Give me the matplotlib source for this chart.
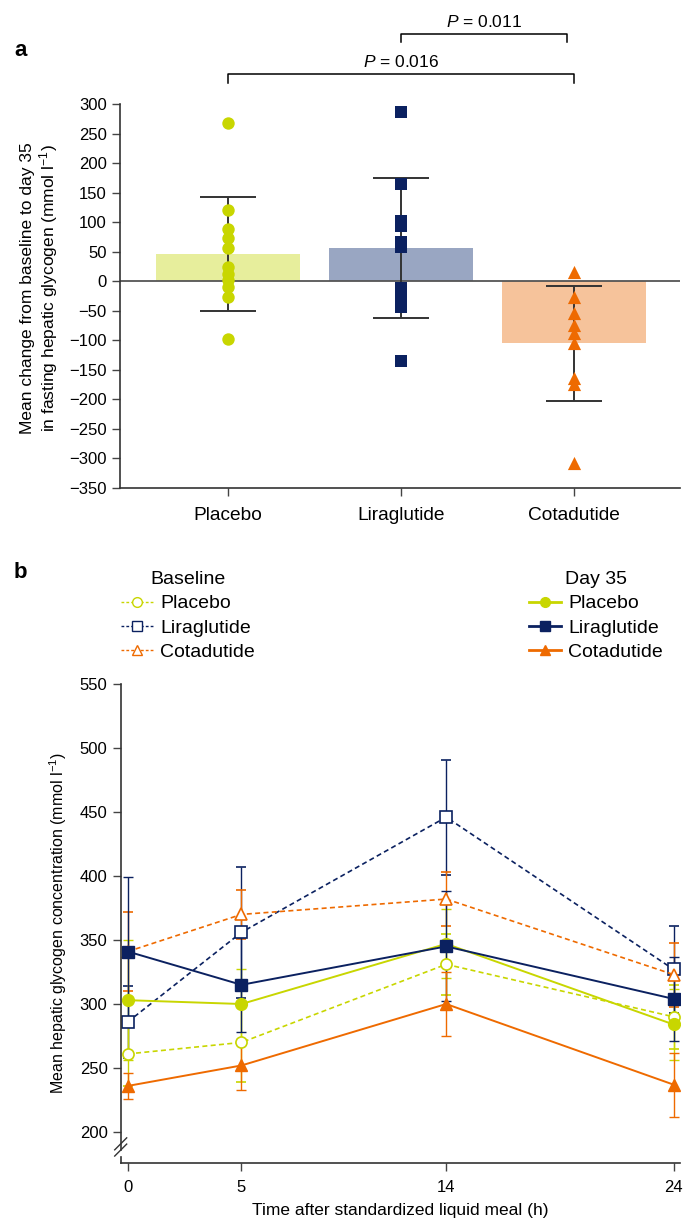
import numpy as np
import matplotlib
matplotlib.use("Agg")
import matplotlib.pyplot as plt
from matplotlib.lines import Line2D

plt.rcParams['font.family'] = ['Liberation Sans', 'DejaVu Sans']
plt.rcParams['mathtext.fontset'] = 'custom'
plt.rcParams['mathtext.rm'] = 'Liberation Sans'
plt.rcParams['mathtext.it'] = 'Liberation Sans:italic'

# ---- panel a data ----
groups = ['Placebo', 'Liraglutide', 'Cotadutide']
bar_means = [46, 56, -105]
bar_err = [96, 118, 97]
placebo_pts = [268, 120, 89, 73, 56, 24, 13, 2, -9, -26, -98]
lira_pts = [287, 165, 102, 93, 67, 58, -12, -21, -32, -43, -135]
cota_pts = [16, -27, -53, -74, -87, -105, -163, -174, -307]
a_yticks = list(range(-350, 301, 50))

# ---- panel b data ----
times = [0, 5, 14, 24]
base_placebo = [261, 270, 331, 290]
base_placebo_err = [25, 31, 24, 25]
base_lira = [286, 356, 446, 327]
base_lira_err = [28, 51, 45, 34]
base_cota = [341, 370, 382, 323]
base_cota_err = [31, 19, 21, 25]
d35_placebo = [303, 300, 347, 284]
d35_placebo_err = [47, 27, 27, 28]
d35_lira = [341, 315, 345, 304]
d35_lira_err = [58, 37, 43, 33]
d35_cota = [236, 252, 300, 237]
d35_cota_err = [10, 19, 25, 25]
b_yticks = [200, 250, 300, 350, 400, 450, 500, 550]

c_pl = '#c8d600'
c_li = '#0b2160'
c_co = '#ee6a00'
bar_cols = ['#e7ee9c', '#99a6c2', '#f6c39b']

W, H = 686, 1222
fig = plt.figure(figsize=(W / 100, H / 100), dpi=100)
fs = 12.5

# ================= panel a =================
ax = fig.add_axes([120 / W, 1 - 488 / H, 560 / W, 384 / H])
xpos = np.arange(len(groups))
ax.bar(xpos, bar_means, width=0.83, color=bar_cols, zorder=1)
ax.axhline(0, color='#555555', lw=1.3, zorder=2)
ax.errorbar(xpos, bar_means, yerr=bar_err, fmt='none', ecolor='#333333',
            elinewidth=1.4, capsize=20, capthick=1.4, zorder=3)
ax.scatter(np.zeros(len(placebo_pts)), placebo_pts, s=80, marker='o', color=c_pl, zorder=4, linewidths=0)
ax.scatter(np.ones(len(lira_pts)), lira_pts, s=72, marker='s', color=c_li, zorder=4, linewidths=0)
ax.scatter(np.full(len(cota_pts), 2), cota_pts, s=90, marker='^', color=c_co, zorder=4, linewidths=0)

ax.set_xlim(-0.624, 2.613)
ax.set_ylim(-350, 300)
ax.set_yticks(a_yticks)
ax.set_xticks(xpos)
ax.set_xticklabels(groups, fontsize=13.8)
ax.tick_params(axis='y', labelsize=fs - 0.5, length=6, width=1, color='#444444')
ax.tick_params(axis='x', length=6, width=1, color='#444444', pad=8)
for s in ['top', 'right']:
    ax.spines[s].set_visible(False)
for s in ['left', 'bottom']:
    ax.spines[s].set_color('#333333')
    ax.spines[s].set_linewidth(1.2)
ax.set_ylabel('Mean change from baseline to day 35\nin fasting hepatic glycogen (mmol l$^{-1}$)',
              fontsize=fs, linespacing=1.15)
ax.yaxis.set_label_coords(-0.107, 0.52)

# significance brackets
ax.plot([0, 0, 2, 2], [336, 351, 351, 336], color='black', lw=1.1, clip_on=False)
ax.text(1, 358, '$P$ = 0.016', ha='center', va='bottom', fontsize=fs)
ax.plot([1, 1, 1.96, 1.96], [405, 418, 418, 405], color='black', lw=1.1, clip_on=False)
ax.text(1.48, 425, '$P$ = 0.011', ha='center', va='bottom', fontsize=fs)

fig.text(14 / W, 1 - 50 / H, 'a', fontsize=16, fontweight='bold', va='center')

# ================= panel b =================
bx = fig.add_axes([120.7 / W, 1 - 1163 / H, 559.3 / W, 479 / H])
ek = dict(elinewidth=1.0, capsize=3.5, capthick=1.0)
bx.errorbar(times, base_placebo, yerr=base_placebo_err, color=c_pl, ls=(0, (3, 2)), lw=1.2,
            marker='o', ms=8, mfc='white', mec=c_pl, mew=1.2, ecolor=c_pl, **ek)
bx.errorbar(times, base_lira, yerr=base_lira_err, color=c_li, ls=(0, (3, 2)), lw=1.2,
            marker='s', ms=8, mfc='white', mec=c_li, mew=1.2, ecolor=c_li, **ek)
bx.errorbar(times, base_cota, yerr=base_cota_err, color=c_co, ls=(0, (3, 2)), lw=1.2,
            marker='^', ms=8.5, mfc='white', mec=c_co, mew=1.2, ecolor=c_co, **ek)
bx.errorbar(times, d35_placebo, yerr=d35_placebo_err, color=c_pl, ls='-', lw=1.4,
            marker='o', ms=8.5, mfc=c_pl, mec=c_pl, ecolor=c_pl, **ek)
bx.errorbar(times, d35_lira, yerr=d35_lira_err, color=c_li, ls='-', lw=1.4,
            marker='s', ms=8, mfc=c_li, mec=c_li, ecolor=c_li, **ek)
bx.errorbar(times, d35_cota, yerr=d35_cota_err, color=c_co, ls='-', lw=1.4,
            marker='^', ms=9, mfc=c_co, mec=c_co, ecolor=c_co, **ek)

bx.set_xlim(-0.31, 24.28)
bx.set_ylim(175.8, 550)
bx.set_xticks(times)
bx.set_yticks(b_yticks)
bx.tick_params(axis='both', labelsize=fs - 0.5, length=6, width=1, color='#444444')
bx.tick_params(axis='x', pad=6)
for s in ['top', 'right']:
    bx.spines[s].set_visible(False)
for s in ['left', 'bottom']:
    bx.spines[s].set_color('#333333')
    bx.spines[s].set_linewidth(1.2)
bx.spines['left'].set_bounds(186, 550)
# lower stub of broken axis and break marks
bx.plot([0, 0], [0, 0.012], transform=bx.transAxes, color='#333333', lw=1.2, clip_on=False)
for yc in (0.027, 0.040):
    bx.plot([-0.0107, 0.0107], [yc - 0.0125, yc + 0.0125], transform=bx.transAxes,
            color='#333333', lw=1.0, clip_on=False)
bx.set_xlabel('Time after standardized liquid meal (h)', fontsize=fs, labelpad=6)
bx.set_ylabel('Mean hepatic glycogen concentration (mmol l$^{-1}$)', fontsize=11.5)
bx.yaxis.set_label_coords(-0.092, 0.5)

base_handles = [
    Line2D([], [], color=c_pl, ls=(0, (2, 1.5)), lw=1.0, marker='o', ms=7, mfc='white', mec=c_pl),
    Line2D([], [], color=c_li, ls=(0, (2, 1.5)), lw=1.0, marker='s', ms=7, mfc='white', mec=c_li),
    Line2D([], [], color=c_co, ls=(0, (2, 1.5)), lw=1.0, marker='^', ms=7, mfc='white', mec=c_co),
]
d35_handles = [
    Line2D([], [], color=c_pl, ls='-', lw=2, marker='o', ms=7, mfc=c_pl, mec=c_pl),
    Line2D([], [], color=c_li, ls='-', lw=2, marker='s', ms=7, mfc=c_li, mec=c_li),
    Line2D([], [], color=c_co, ls='-', lw=2, marker='^', ms=7, mfc=c_co, mec=c_co),
]
lfs = 14
leg1 = fig.legend(base_handles, groups, title='Baseline', loc='upper left',
                  bbox_to_anchor=(121 / W, 1 - 571 / H), frameon=False, fontsize=lfs,
                  title_fontsize=lfs, handlelength=1.65, handletextpad=0.35, labelspacing=0.35,
                  borderpad=0, borderaxespad=0)
leg2 = fig.legend(d35_handles, groups, title='Day 35', loc='upper left',
                  bbox_to_anchor=(529 / W, 1 - 571 / H), frameon=False, fontsize=lfs,
                  title_fontsize=lfs, handlelength=1.65, handletextpad=0.35, labelspacing=0.35,
                  borderpad=0, borderaxespad=0)

fig.text(14 / W, 1 - 572 / H, 'b', fontsize=16, fontweight='bold', va='center')

fig.savefig('out.png', dpi=100, facecolor='white')
